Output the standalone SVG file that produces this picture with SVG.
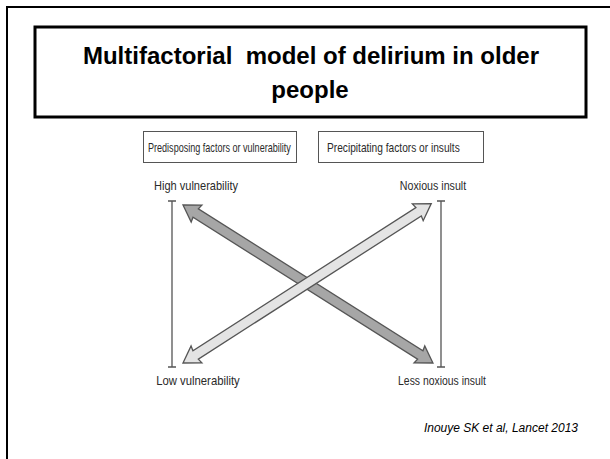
<svg xmlns="http://www.w3.org/2000/svg" width="610" height="459" viewBox="0 0 610 459">
  <style>
    .frame { fill: none; stroke: #000; stroke-width: 2; }
    .titlebox { fill: #fff; stroke: #000; stroke-width: 3; }
    .title { font-family: "Liberation Sans", Arial, sans-serif; font-weight: bold; font-size: 24px; fill: #000; text-anchor: middle; }
    .factorbox { fill: #fff; stroke: #555; stroke-width: 1; }
    .lbl { font-family: "Liberation Sans", Arial, sans-serif; font-size: 13px; fill: #2a2a2a; }
    .mid { text-anchor: middle; }
    .bracket { fill: none; stroke: #555; stroke-width: 1.3; }
    .arrow { stroke: #555; stroke-width: 1.3; stroke-linejoin: miter; }
    .dark { fill: #a6a6a6; }
    .light { fill: #e4e4e4; }
    .cite { font-family: "Liberation Sans", Arial, sans-serif; font-style: italic; font-size: 12px; fill: #000; text-anchor: end; }
  </style>

  <!-- slide frame -->
  <path class="frame" d="M7,470 V7 H620"/>

  <!-- title -->
  <g id="title">
    <rect class="titlebox" x="35" y="27" width="551" height="90"/>
    <text class="title" x="311" y="64" xml:space="preserve">Multifactorial  model of delirium in older</text>
    <text class="title" x="310" y="98">people</text>
  </g>

  <!-- column headers (condensed sans via horizontal scale) -->
  <g id="predisposing">
    <rect class="factorbox" x="143.5" y="131.5" width="153" height="31"/>
    <text class="lbl" transform="translate(148,152) scale(0.697,1)">Predisposing factors or vulnerability</text>
  </g>
  <g id="precipitating">
    <rect class="factorbox" x="318.5" y="131.5" width="165" height="31"/>
    <text class="lbl" transform="translate(327,152) scale(0.783,1)">Precipitating factors or insults</text>
  </g>

  <!-- scale ends -->
  <g id="high-vulnerability">
    <text class="lbl mid" transform="translate(196,190) scale(0.85,1)">High vulnerability</text>
  </g>
  <g id="low-vulnerability">
    <text class="lbl mid" transform="translate(198,385) scale(0.87,1)">Low vulnerability</text>
  </g>
  <g id="noxious-insult">
    <text class="lbl mid" transform="translate(433,190) scale(0.82,1)">Noxious insult</text>
  </g>
  <g id="less-noxious-insult">
    <text class="lbl mid" transform="translate(442,385) scale(0.80,1)">Less noxious insult</text>
  </g>

  <!-- connectors: range brackets and crossing double arrows -->
  <g id="connectors">
    <path class="bracket" d="M168,201 H176 M172,201 V367 M168,367 H176"/>
    <path class="bracket" d="M437,201 H445 M441,201 V367 M437,367 H445"/>
    <!-- high vulnerability <-> less noxious insult -->
    <polygon class="arrow dark" transform="translate(183,205) rotate(32.3)"
             points="0,0 16,-10 15,-5 280.7,-5 279.7,-10 295.7,0 279.7,10 280.7,5 15,5 16,10"/>
    <!-- low vulnerability <-> noxious insult -->
    <polygon class="arrow light" transform="translate(183,363) rotate(-32.7)"
             points="0,0 16,-10 15,-5 280,-5 279,-10 295,0 279,10 280,5 15,5 16,10"/>
  </g>

  <!-- reference -->
  <text class="cite" x="578" y="432">Inouye SK et al, Lancet 2013</text>
</svg>
